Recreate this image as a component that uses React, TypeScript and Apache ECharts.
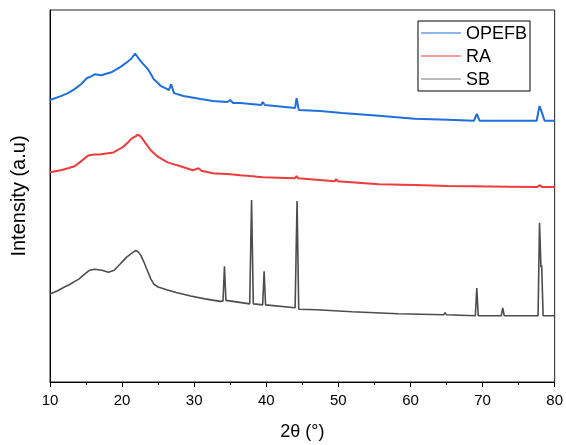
import React, { useEffect, useRef } from "react";
import * as echarts from "echarts";

// 2θ positions (degrees) and intensities (a.u., offset for display)
const opefbTheta = [10, 11.5, 12.5, 13.4, 14.3, 15.1, 15.7, 16.2, 17.1, 18.5, 19.2, 19.9, 20.8, 21.3, 21.8, 22.2, 22.6, 23.1, 23.6, 24.0, 24.4, 25.0, 25.4, 26.0, 26.5, 26.8, 27.2, 28.5, 30.9, 32.6, 34.6, 35.0, 35.4, 36.4, 39.3, 39.5, 39.8, 44.0, 44.2, 44.5, 47.5, 50.5, 55.6, 60.6, 65.2, 68.8, 69.2, 69.6, 77.5, 77.9, 78.2, 78.6, 80];
const opefbInt = [285, 289, 292, 296, 301, 307, 309, 311, 310, 313, 316, 319, 324, 327, 332, 328, 324, 320, 316, 311, 306, 302, 299, 297, 295, 301, 292, 289, 286, 284, 283, 285, 282, 282, 280, 283, 280, 277, 287, 275, 274, 272, 269, 266, 265, 264, 271, 264, 264, 279, 273, 264, 264];

const raTheta = [10, 11.5, 12.5, 13.4, 14.3, 15.3, 16.1, 16.9, 17.8, 18.8, 19.5, 20.2, 20.8, 21.3, 21.8, 22.2, 22.6, 23.0, 23.5, 24.0, 24.9, 25.6, 26.3, 27.2, 28.1, 29.8, 30.6, 31.0, 32.6, 35.0, 36.4, 39.5, 44.0, 44.2, 44.4, 49.5, 49.7, 49.9, 55.6, 60.6, 65.2, 77.6, 77.9, 78.3, 80];
const raInt = [212, 214, 216, 218, 223, 229, 230, 230, 231, 232, 235, 238, 242, 246, 248, 250, 248, 244, 239, 234, 228, 225, 222, 220, 218, 214, 216, 213.5, 211, 210, 209, 207, 206, 208, 206, 203, 205, 203, 200, 199, 198, 197, 199, 197, 197];

const sbTheta = [10, 11, 12, 12.6, 13.5, 14.0, 14.8, 15.5, 16.2, 17.2, 18.1, 18.9, 19.7, 20.6, 21.3, 21.9, 22.3, 22.6, 23.1, 23.6, 24.0, 24.4, 25.0, 26.3, 27.5, 29.5, 31.5, 33.6, 34.0, 34.2, 34.4, 37.7, 37.96, 38.2, 39.5, 39.7, 39.9, 44.0, 44.27, 44.5, 47, 51.9, 58.3, 64.6, 64.8, 65.0, 69.0, 69.2, 69.4, 72.6, 72.8, 73.0, 77.7, 77.9, 78.1, 78.2, 78.4, 80];
const sbInt = [89, 92, 96, 98, 102, 104, 109, 113, 114, 113, 111, 113, 119, 126, 130, 133, 131, 128, 120, 111, 104, 99, 96, 93, 90.5, 87, 84, 81.5, 82, 117, 82.5, 79, 184, 79, 78, 112, 78, 75, 183, 73.5, 73, 71, 69, 68, 70, 68, 67, 95, 67, 67, 75, 67, 67, 161, 116, 118, 67, 67];

const xTicks = [10, 20, 30, 40, 50, 60, 70, 80];

const zip = (xs: number[], ys: number[]) => xs.map((x, i) => [x, ys[i]]);

export default function App() {
  const ref = useRef<HTMLDivElement>(null);
  useEffect(() => {
    if (!ref.current) return;
    const chart = echarts.init(ref.current, undefined, { renderer: "svg" });
    const font = "Arial, 'Liberation Sans', sans-serif";
    chart.setOption({
      animation: false,
      textStyle: { fontFamily: font },
      grid: { left: 48, right: 8, top: 10, bottom: 59, show: true, borderColor: "#222", borderWidth: 1, backgroundColor: "transparent" },
      legend: {
        orient: "vertical",
        right: 36,
        top: 21,
        icon: "rect",
        itemWidth: 40,
        itemHeight: 1.2,
        itemGap: 5,
        padding: [3, 3, 3, 3],
        borderColor: "#000",
        borderWidth: 1,
        textStyle: { fontSize: 18, color: "#000", fontFamily: font, padding: [0, 0, 0, 0] },
        data: ["OPEFB", "RA", "SB"],
      },
      xAxis: {
        type: "value",
        min: xTicks[0],
        max: xTicks[xTicks.length - 1],
        interval: 10,
        name: "2θ (°)",
        nameLocation: "middle",
        nameGap: 40,
        nameTextStyle: { fontSize: 18, color: "#000", fontFamily: font },
        axisLine: { show: true, onZero: false, lineStyle: { color: "#000", width: 1 } },
        axisTick: { show: true, length: 5, lineStyle: { color: "#000" } },
        minorTick: { show: true, splitNumber: 2, length: 3, lineStyle: { color: "#000" } },
        axisLabel: { fontSize: 15, color: "#000", margin: 10, fontFamily: font },
        splitLine: { show: false },
      },
      yAxis: {
        type: "value",
        min: 0,
        max: 376,
        name: "Intensity (a.u)",
        nameLocation: "middle",
        nameGap: 22,
        nameTextStyle: { fontSize: 20, color: "#000", fontFamily: font },
        axisLine: { show: true, lineStyle: { color: "#000", width: 1 } },
        axisTick: { show: false },
        axisLabel: { show: false },
        splitLine: { show: false },
      },
      series: [
        { name: "OPEFB", type: "line", showSymbol: false, data: zip(opefbTheta, opefbInt), lineStyle: { color: "#1f6fde", width: 2 }, itemStyle: { color: "#1f6fde" } },
        { name: "RA", type: "line", showSymbol: false, data: zip(raTheta, raInt), lineStyle: { color: "#ee3b3b", width: 2 }, itemStyle: { color: "#ee3b3b" } },
        { name: "SB", type: "line", showSymbol: false, data: zip(sbTheta, sbInt), lineStyle: { color: "#4d4d4d", width: 1.6 }, itemStyle: { color: "#7a7a7a" } },
      ],
    });
    return () => chart.dispose();
  }, []);
  return <div ref={ref} style={{ position: "fixed", left: 0, top: 0, width: 566, height: 445 }} />;
}
